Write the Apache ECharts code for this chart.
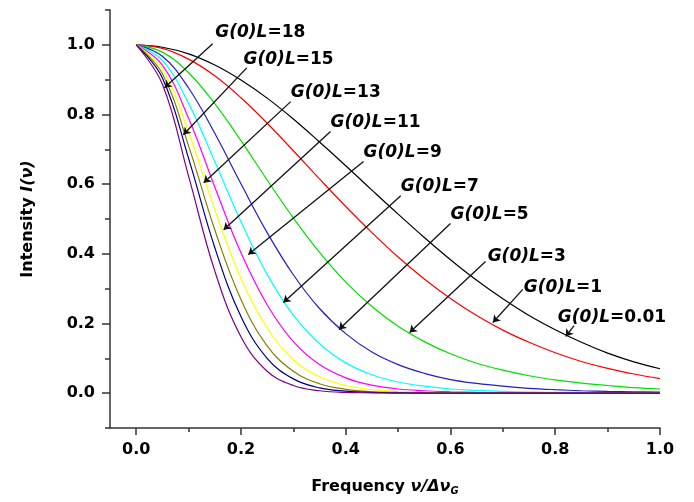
<!DOCTYPE html>
<html><head><meta charset="utf-8">
<script src="https://cdn.jsdelivr.net/npm/echarts@6/dist/echarts.min.js"></script>
<style>html,body{margin:0;padding:0;background:#fff}#c{width:694px;height:502px}</style>
</head><body><div id="c"></div>
<script>
// normalized frequency nu / Delta nu_G
const freq = [0, 0.05, 0.10, 0.15, 0.20, 0.25, 0.30, 0.35, 0.40, 0.45, 0.50,
              0.55, 0.60, 0.65, 0.70, 0.75, 0.80, 0.85, 0.90, 0.95, 1.00];
// intensity curves, one per G(0)L value
const I_g001 = [1.000, 0.993, 0.974, 0.942, 0.899, 0.847, 0.787, 0.721, 0.653, 0.583, 0.514, 0.447, 0.383, 0.324, 0.271, 0.223, 0.182, 0.146, 0.115, 0.090, 0.070];
const I_g1   = [1.000, 0.990, 0.959, 0.911, 0.848, 0.775, 0.696, 0.615, 0.536, 0.461, 0.391, 0.328, 0.272, 0.223, 0.181, 0.146, 0.116, 0.091, 0.071, 0.055, 0.042];
const I_g3   = [1.000, 0.979, 0.920, 0.831, 0.725, 0.612, 0.503, 0.404, 0.319, 0.249, 0.192, 0.148, 0.113, 0.086, 0.066, 0.050, 0.038, 0.029, 0.022, 0.016, 0.012];
const I_g5   = [1.000, 0.967, 0.876, 0.746, 0.601, 0.461, 0.340, 0.243, 0.171, 0.118, 0.082, 0.057, 0.039, 0.028, 0.020, 0.014, 0.010, 0.007, 0.005, 0.004, 0.003];
const I_g7   = [1.000, 0.955, 0.832, 0.665, 0.492, 0.341, 0.224, 0.142, 0.087, 0.053, 0.032, 0.020, 0.012, 0.008, 0.005, 0.003, 0.002, 0.002, 0.001, 0.001, 0.001];
const I_g9   = [1.000, 0.942, 0.789, 0.592, 0.403, 0.254, 0.148, 0.082, 0.044, 0.023, 0.012, 0.007, 0.004, 0.002, 0.001, 0.001, 0.001, 0.000, 0.000, 0.000, 0.000];
const I_g11  = [1.000, 0.930, 0.749, 0.527, 0.329, 0.187, 0.096, 0.047, 0.022, 0.010, 0.005, 0.002, 0.001, 0.001, 0.000, 0.000, 0.000, 0.000, 0.000, 0.000, 0.000];
const I_g13  = [1.000, 0.917, 0.710, 0.469, 0.269, 0.136, 0.063, 0.027, 0.011, 0.004, 0.002, 0.001, 0.000, 0.000, 0.000, 0.000, 0.000, 0.000, 0.000, 0.000, 0.000];
const I_g15  = [1.000, 0.905, 0.674, 0.418, 0.220, 0.100, 0.041, 0.015, 0.006, 0.002, 0.001, 0.000, 0.000, 0.000, 0.000, 0.000, 0.000, 0.000, 0.000, 0.000, 0.000];
const I_g18  = [1.000, 0.887, 0.623, 0.351, 0.162, 0.063, 0.022, 0.007, 0.002, 0.001, 0.000, 0.000, 0.000, 0.000, 0.000, 0.000, 0.000, 0.000, 0.000, 0.000, 0.000];

const gainValues = ['0.01', '1', '3', '5', '7', '9', '11', '13', '15', '18'];
const curves = [I_g001, I_g1, I_g3, I_g5, I_g7, I_g9, I_g11, I_g13, I_g15, I_g18];
const curveColors = ['#000000', '#ff0000', '#00e000', '#2020c0', '#00ffff', '#ff00ff', '#ffff00', '#808000', '#000080', '#800080'];

// tick values
const xTicks = [0, 0.2, 0.4, 0.6, 0.8, 1.0];
const xMinorTicks = [0.1, 0.3, 0.5, 0.7, 0.9];
const yTicks = [0, 0.2, 0.4, 0.6, 0.8, 1.0];
const yMinorTicks = [-0.1, 0.1, 0.3, 0.5, 0.7, 0.9, 1.1];

// annotations (data units): label anchor (left, middle), arrow start and arrow tip
const annotGain  = ['18', '15', '13', '11', '9', '7', '5', '3', '1', '0.01'];
const annotLabel = [[0.151, 1.034], [0.205, 0.957], [0.295, 0.863], [0.371, 0.776], [0.434, 0.690],
                    [0.505, 0.593], [0.600, 0.513], [0.671, 0.392], [0.740, 0.303], [0.805, 0.217]];
const arrowFrom  = [[0.146, 1.003], [0.211, 0.934], [0.295, 0.837], [0.371, 0.751], [0.434, 0.665],
                    [0.505, 0.567], [0.600, 0.487], [0.667, 0.378], [0.738, 0.298], [0.836, 0.194]];
const arrowTo    = [[0.054, 0.877], [0.090, 0.742], [0.129, 0.604], [0.167, 0.469], [0.214, 0.398],
                    [0.281, 0.260], [0.387, 0.183], [0.522, 0.174], [0.681, 0.203], [0.820, 0.163]];

const FONT = 'DejaVu Sans';
const axisColor = '#333';

const lineSeries = curves.map((vals, i) => ({
  name: 'G(0)L=' + gainValues[i],
  type: 'line',
  xAxisIndex: 0, yAxisIndex: 0,
  data: freq.map((x, j) => [x, vals[j]]),
  showSymbol: false,
  smooth: 0.4,
  lineStyle: { color: curveColors[i], width: 1.2 },
  itemStyle: { color: curveColors[i] },
  z: 2,
  silent: true
}));

const annotSeries = {
  type: 'scatter',
  xAxisIndex: 0, yAxisIndex: 0,
  data: annotLabel,
  symbolSize: 0,
  silent: true,
  z: 5,
  itemStyle: { opacity: 1, color: '#000' },
  label: {
    show: true, position: 'right', distance: 0, color: '#000', opacity: 1,
    formatter: p => '{i|G(0)L}{n|=' + annotGain[p.dataIndex] + '}',
    rich: {
      i: { fontFamily: FONT, fontWeight: 'bold', fontStyle: 'italic', fontSize: 17, color: '#000' },
      n: { fontFamily: FONT, fontWeight: 'bold', fontSize: 17, color: '#000' }
    }
  },
  markLine: {
    silent: true,
    symbol: ['none', 'arrow'],
    symbolSize: 7,
    label: { show: false },
    lineStyle: { color: '#111', width: 1.3, type: 'solid', opacity: 1 },
    data: arrowFrom.map((s, i) => [{ coord: s }, { coord: arrowTo[i] }])
  }
};

const tickLabelStyle = { fontFamily: FONT, fontWeight: 'bold', fontSize: 16, color: '#000' };

const option = {
  animation: false,
  backgroundColor: '#fff',
  grid: { left: 110, right: 34, top: 10, bottom: 74, containLabel: false },
  xAxis: [{
    type: 'value', min: -0.05, max: 1.0, position: 'bottom',
    axisLine: { show: true, onZero: false, lineStyle: { color: axisColor, width: 1.5 } },
    axisTick: { show: true, customValues: xTicks, length: 7, lineStyle: { color: axisColor, width: 1.5 } },
    axisLabel: Object.assign({ customValues: xTicks, margin: 14, formatter: v => v.toFixed(1) }, tickLabelStyle),
    splitLine: { show: false },
    name: '{a|Frequency }{i|ν/Δν}{s|G}',
    nameLocation: 'middle', nameGap: 50,
    nameTextStyle: {
      color: '#000',
      rich: {
        a: { fontFamily: FONT, fontWeight: 'bold', fontSize: 16, color: '#000' },
        i: { fontFamily: FONT, fontWeight: 'bold', fontStyle: 'italic', fontSize: 16, color: '#000' },
        s: { fontFamily: FONT, fontWeight: 'bold', fontStyle: 'italic', fontSize: 10, color: '#000', verticalAlign: 'bottom', padding: [8, 0, 0, 0] }
      }
    }
  }, {
    type: 'value', min: -0.05, max: 1.0, position: 'bottom',
    axisLine: { show: false, onZero: false },
    axisTick: { show: true, customValues: xMinorTicks, length: 4, lineStyle: { color: axisColor, width: 1.5 } },
    axisLabel: { show: false },
    splitLine: { show: false }
  }],
  yAxis: [{
    type: 'value', min: -0.1, max: 1.1, position: 'left',
    axisLine: { show: true, onZero: false, lineStyle: { color: axisColor, width: 1.5 } },
    axisTick: { show: true, customValues: yTicks, length: 8, lineStyle: { color: axisColor, width: 1.5 } },
    axisLabel: Object.assign({ customValues: yTicks, margin: 15, formatter: v => v.toFixed(1) }, tickLabelStyle),
    splitLine: { show: false },
    name: '{a|Intensity }{i|I(ν)}',
    nameLocation: 'middle', nameGap: 74,
    nameTextStyle: {
      color: '#000',
      rich: {
        a: { fontFamily: FONT, fontWeight: 'bold', fontSize: 16, color: '#000' },
        i: { fontFamily: FONT, fontWeight: 'bold', fontStyle: 'italic', fontSize: 16, color: '#000' }
      }
    }
  }, {
    type: 'value', min: -0.1, max: 1.1, position: 'left',
    axisLine: { show: false, onZero: false },
    axisTick: { show: true, customValues: yMinorTicks, length: 5, lineStyle: { color: axisColor, width: 1.5 } },
    axisLabel: { show: false },
    splitLine: { show: false }
  }],
  series: lineSeries.concat([annotSeries])
};

const chart = echarts.init(document.getElementById('c'), null, { renderer: 'canvas' });
chart.setOption(option);
</script>
</body></html>
